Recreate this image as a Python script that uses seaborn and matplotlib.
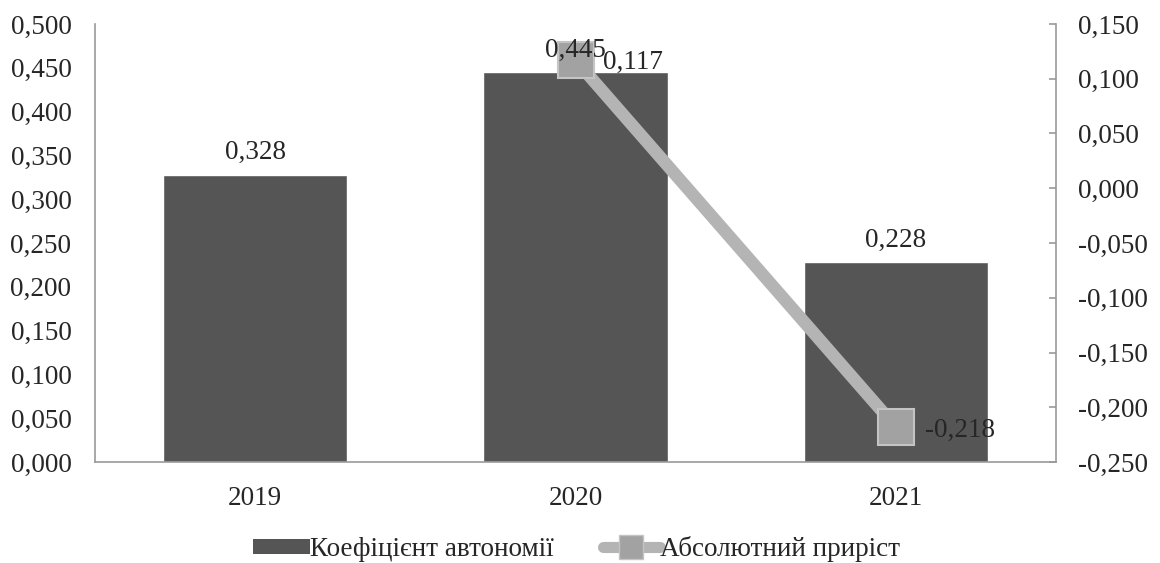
import matplotlib
matplotlib.use("Agg")
import matplotlib.pyplot as plt
import seaborn as sns
import pandas as pd
from matplotlib.ticker import FuncFormatter, MultipleLocator
from matplotlib.lines import Line2D
from matplotlib.patches import Patch

years = ["2019", "2020", "2021"]
autonomy = [0.328, 0.445, 0.228]
growth_years = ["2020", "2021"]
growth = [0.117, -0.218]

sns.set_theme(style="white")
plt.rcParams['font.family'] = ['Liberation Serif', 'DejaVu Serif']
FS = 19.5

fig = plt.figure(figsize=(11.6, 5.63), dpi=100)
ax = fig.add_axes([95/1160, 1-462/563, (1056-95)/1160, (462-24)/563])

df = pd.DataFrame({"year": years, "val": autonomy})
sns.barplot(data=df, x="year", y="val", color="#555555", saturation=1, width=0.575, ax=ax)
ax.set_xlim(-0.5, 2.5)
ax.set_ylim(0, 0.5)
ax.yaxis.set_major_locator(MultipleLocator(0.05))
fmt = FuncFormatter(lambda v, p: f"{v:.3f}".replace(".", ",").replace("-0,000", "0,000"))
ax.yaxis.set_major_formatter(fmt)
ax.set_xlabel("")
ax.set_ylabel("")
for s in ["top", "right"]:
    ax.spines[s].set_visible(False)
for s in ["left", "bottom"]:
    ax.spines[s].set_color("#9a9a9a")
    ax.spines[s].set_linewidth(1.2)
ax.tick_params(axis="y", length=0, labelsize=FS, pad=17)
ax.tick_params(axis="x", length=0, labelsize=FS, pad=17)

ax2 = ax.twinx()
gx = [years.index(y) for y in growth_years]
gdf = pd.DataFrame({"x": gx, "g": growth})
sns.lineplot(data=gdf, x="x", y="g", ax=ax2, color="#b4b4b4", linewidth=9, marker="s",
             markersize=26, markerfacecolor="#a2a2a2", markeredgecolor="#c4c4c4",
             markeredgewidth=1.5, zorder=3)
ax2.set_ylim(-0.25, 0.15)
ax2.set_xlim(-0.5, 2.5)
ax2.yaxis.set_major_locator(MultipleLocator(0.05))
ax2.yaxis.set_major_formatter(fmt)
ax2.set_ylabel("")
ax2.set_xlabel("")
for s in ["top", "left", "bottom"]:
    ax2.spines[s].set_visible(False)
ax2.spines["right"].set_color("#9a9a9a")
ax2.spines["right"].set_linewidth(1.2)
ax2.tick_params(axis="y", length=5, width=1.2, color="#9a9a9a", direction="in", labelsize=FS, pad=16)
if ax2.get_legend():
    ax2.get_legend().remove()

# bar value labels drawn above the line layer
for i, v in enumerate(autonomy):
    ax2.text(i, v + 0.011, f"{v:.3f}".replace(".", ","), ha="center", va="bottom",
             fontsize=FS, zorder=6, transform=ax.transData)

ax2.text(gx[0] + 0.085, growth[0] - 0.002, f"{growth[0]:.3f}".replace(".", ","), ha="left", va="center", fontsize=FS, zorder=6)
ax2.text(gx[1] + 0.09, growth[1] - 0.003, f"{growth[1]:.3f}".replace(".", ","), ha="left", va="center", fontsize=FS, zorder=6)

handles = [Patch(facecolor="#555555", edgecolor="none"),
           Line2D([0], [0], color="#b4b4b4", linewidth=8, marker="s", markersize=17,
                  markerfacecolor="#a2a2a2", markeredgecolor="#c4c4c4")]
fig.legend(handles, ["Коефіцієнт автономії", "Абсолютний приріст"], loc="center",
           bbox_to_anchor=(0.497, 1 - 549/563), ncol=2, frameon=False, fontsize=FS,
           handlelength=2.1, handleheight=0.5, handletextpad=0.0, columnspacing=1.8)

fig.savefig("out.png", dpi=100)
